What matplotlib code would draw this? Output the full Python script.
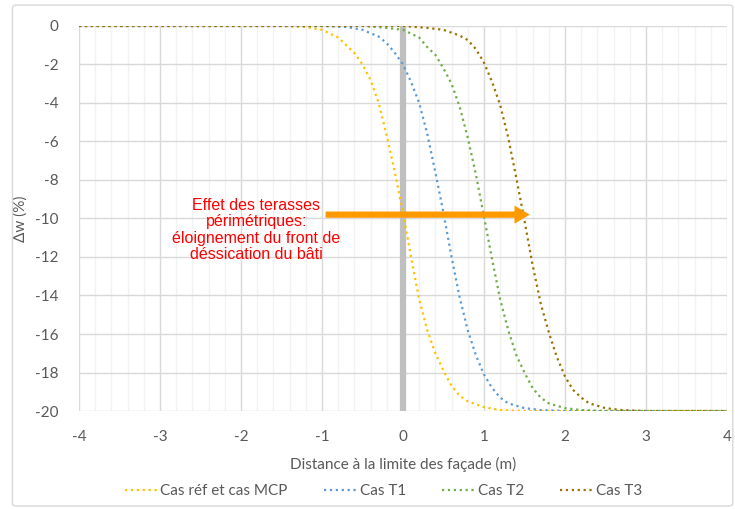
import numpy as np
import matplotlib.pyplot as plt
from matplotlib.patches import FancyBboxPatch

plt.rcParams['font.family'] = ['Lato', 'DejaVu Sans']
plt.rcParams['axes.unicode_minus'] = False

# données
x_ref = [-4, -1.5, -1.2, -1.0, -0.8, -0.6, -0.5, -0.4, -0.3, -0.2, -0.1, 0.0,
         0.1, 0.2, 0.3, 0.4, 0.5, 0.6, 0.7, 0.8, 1.0, 1.2, 1.5, 4]
y_ref = [0, 0, -0.05, -0.2, -0.6, -1.4, -2.0, -2.8, -4.0, -5.7, -7.6, -9.7,
         -12.0, -14.2, -15.8, -17.0, -17.9, -18.7, -19.2, -19.5, -19.8, -19.95, -20, -20]

x_t1 = [-4, -1.0, -0.7, -0.5, -0.3, -0.2, -0.1, 0.0, 0.1, 0.2, 0.3, 0.4, 0.5,
        0.6, 0.7, 0.8, 0.9, 1.0, 1.1, 1.2, 1.3, 1.5, 1.7, 2.0, 4]
y_t1 = [0, 0, -0.05, -0.2, -0.55, -0.9, -1.4, -2.0, -2.9, -4.0, -5.6, -7.6, -9.7,
        -12.0, -14.1, -15.8, -17.1, -18.1, -18.8, -19.3, -19.6, -19.85, -19.95, -20, -20]

x_t2 = [-4, -0.5, -0.2, 0.0, 0.2, 0.3, 0.4, 0.5, 0.6, 0.7, 0.8, 0.9, 1.0,
        1.1, 1.2, 1.3, 1.4, 1.5, 1.6, 1.7, 1.8, 2.0, 2.2, 2.5, 4]
y_t2 = [0, 0, -0.1, -0.2, -0.6, -1.1, -1.5, -2.2, -3.0, -4.2, -5.8, -7.7, -9.9,
        -12.1, -14.2, -15.8, -17.1, -18.0, -18.8, -19.3, -19.6, -19.85, -19.95, -20, -20]

x_t3 = [-4, 0.0, 0.3, 0.5, 0.7, 0.8, 0.9, 1.0, 1.1, 1.2, 1.3, 1.4, 1.5,
        1.6, 1.7, 1.8, 1.9, 2.0, 2.1, 2.2, 2.3, 2.5, 2.7, 3.0, 4]
y_t3 = [0, 0, -0.1, -0.2, -0.5, -0.73, -1.2, -1.9, -2.9, -4.1, -5.8, -7.9, -10.1,
        -12.4, -14.4, -15.9, -17.2, -18.2, -18.9, -19.3, -19.6, -19.85, -19.95, -20, -20]

series = [
    ('Cas réf et cas MCP', x_ref, y_ref, '#FFC000'),
    ('Cas T1', x_t1, y_t1, '#5B9BD5'),
    ('Cas T2', x_t2, y_t2, '#70AD47'),
    ('Cas T3', x_t3, y_t3, '#997300'),
]

fig = plt.figure(figsize=(7.35, 5.09), dpi=100)
ax = fig.add_axes([0.1075, 0.1925, 0.8815, 0.7565])

# cadre du graphique
fig.patches.append(FancyBboxPatch((0.017, 0.006), 0.98, 0.984,
                                  boxstyle='round,pad=0,rounding_size=0.005',
                                  transform=fig.transFigure, fill=False,
                                  edgecolor='#D9D9D9', linewidth=1))

ax.set_xlim(-4, 4)
ax.set_ylim(-20, 0)
ax.set_xticks(np.arange(-4, 5, 1))
ax.set_xticks(np.arange(-4, 4.01, 0.2), minor=True)
ax.set_yticks(np.arange(-20, 1, 2))
ax.grid(True, which='major', color='#D9D9D9', linewidth=1, zorder=0)
ax.grid(True, which='minor', axis='x', color='#F2F2F2', linewidth=1, zorder=0)
ax.set_axisbelow(True)
for s in ax.spines.values():
    s.set_visible(False)
ax.tick_params(which='both', length=0, labelsize=11, labelcolor='#595959')
ax.tick_params(axis='x', pad=14)
ax.tick_params(axis='y', pad=15)

# ligne verticale à la limite de façade
ax.plot([0, 0], [0, -20], color='#BFBFBF', linewidth=4.5, zorder=2)

for name, xs, ys, c in series:
    ax.plot(xs, ys, linestyle=':', color=c, linewidth=1.6, label=name, zorder=3)

ax.annotate('', xy=(1.6, -9.8), xytext=(-0.99, -9.8),
            arrowprops=dict(arrowstyle='simple,head_length=1.1,head_width=1.3,tail_width=0.45',
                            color='#FF9900', lw=0), zorder=4)
ax.text(-1.81, -10.6, 'Effet des terasses\npérimétriques:\néloignement du front de\ndéssication du bâti',
        color='#FF0000', fontsize=11.5, ha='center', va='center', linespacing=1.1,
        family=['Liberation Sans', 'DejaVu Sans'], zorder=5)

ax.set_xlabel('Distance à la limite des façade (m)', fontsize=11, color='#595959', labelpad=9)
ax.set_ylabel('Δw (%)', fontsize=11, color='#595959')
ax.yaxis.set_label_coords(-0.079, 0.5)

ax.legend(loc='upper center', bbox_to_anchor=(0.47, -0.155), ncol=4, frameon=False,
          fontsize=11, labelcolor='#595959', handlelength=2.2, handletextpad=0.1,
          columnspacing=2.4)

fig.savefig('out.png', dpi=100)
